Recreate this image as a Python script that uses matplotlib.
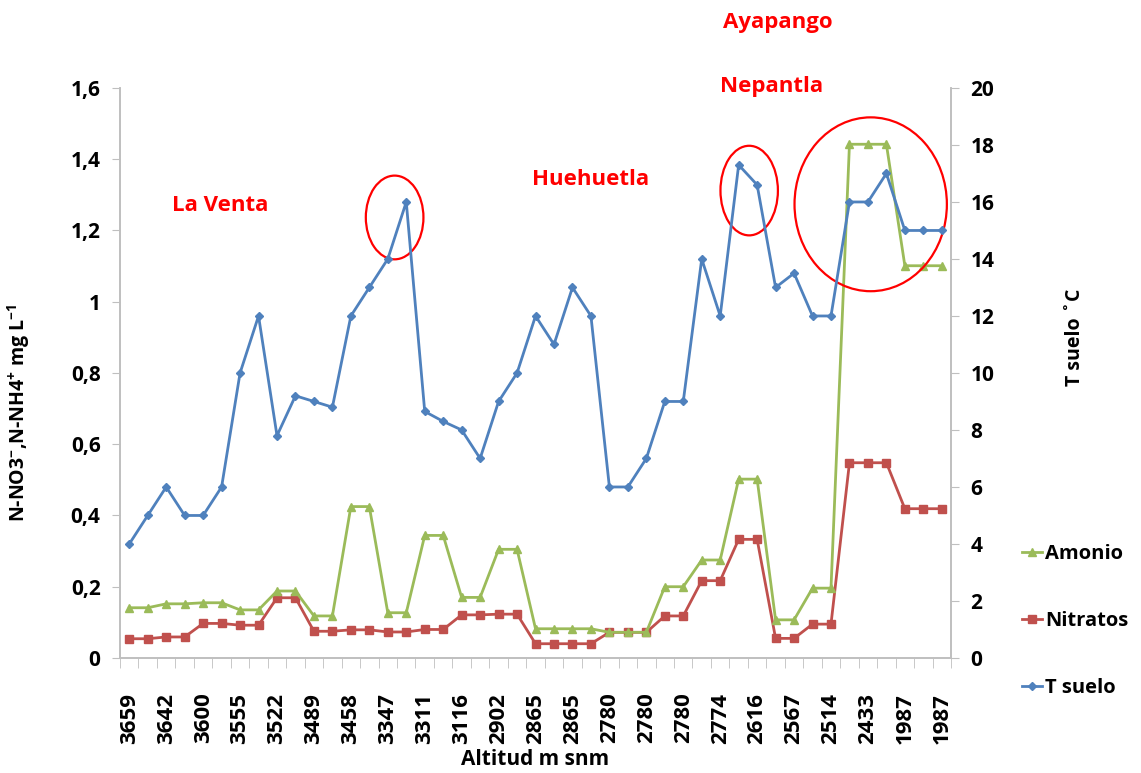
import numpy as np
import matplotlib
matplotlib.use('Agg')
from matplotlib import pyplot as plt
from matplotlib.patches import Ellipse
from matplotlib.lines import Line2D

plt.rcParams['font.family'] = ['Open Sans', 'DejaVu Sans']
plt.rcParams['font.weight'] = 'bold'
plt.rcParams['mathtext.fontset'] = 'custom'
plt.rcParams['mathtext.bf'] = 'Open Sans:bold'
plt.rcParams['mathtext.rm'] = 'Open Sans:bold'
plt.rcParams['mathtext.default'] = 'bf'

## Data ##
altitud = ['3659', '3642', '3600', '3555', '3522', '3489', '3458', '3347',
           '3311', '3116', '2902', '2865', '2865', '2780', '2780', '2780',
           '2774', '2616', '2567', '2514', '2433', '1987', '1987']

amonio = [0.141, 0.141, 0.152, 0.152, 0.155, 0.155, 0.135, 0.135, 0.188, 0.188,
          0.118, 0.118, 0.425, 0.425, 0.127, 0.127, 0.344, 0.344, 0.170, 0.170,
          0.305, 0.305, 0.082, 0.082, 0.082, 0.082, 0.072, 0.072, 0.072, 0.200,
          0.200, 0.275, 0.275, 0.502, 0.502, 0.107, 0.107, 0.196, 0.196, 1.442,
          1.442, 1.442, 1.101, 1.101, 1.101]

nitratos = [0.054, 0.054, 0.059, 0.059, 0.097, 0.097, 0.092, 0.092, 0.169, 0.169,
            0.075, 0.075, 0.079, 0.079, 0.073, 0.073, 0.080, 0.080, 0.121, 0.121,
            0.123, 0.123, 0.040, 0.040, 0.040, 0.040, 0.072, 0.072, 0.072, 0.118,
            0.118, 0.217, 0.217, 0.333, 0.333, 0.055, 0.055, 0.095, 0.095, 0.548,
            0.548, 0.548, 0.419, 0.419, 0.419]

t_suelo = [4, 5, 6, 5, 5, 6, 10, 12, 7.8, 9.2,
           9, 8.8, 12, 13, 14, 16, 8.65, 8.3, 8, 7,
           9, 10, 12, 11, 13, 12, 6, 6, 7, 9,
           9, 14, 12, 17.3, 16.6, 13, 13.5, 12, 12, 16,
           16, 17, 15, 15, 15]

sitios = ['La Venta', 'Huehuetla', 'Nepantla', 'Ayapango']

c_amonio = '#9BBB59'
c_nitratos = '#C0504D'
c_tsuelo = '#4F81BD'
gris = '#BFBFBF'

x = np.arange(len(t_suelo))

fig = plt.figure(figsize=(11.41, 7.73), dpi=100)
ax = fig.add_axes([0.1052, 0.1488, 0.7283, 0.7374])
ax2 = ax.twinx()

ax.plot(x, nitratos, color=c_nitratos, marker='s', ms=6, lw=2, label='Nitratos')
ax.plot(x, amonio, color=c_amonio, marker='^', ms=6, lw=2, label='Amonio')
ax2.plot(x, t_suelo, color=c_tsuelo, marker='D', ms=4.5, lw=2, label='T suelo')

ax.set_xlim(-0.5, len(x) - 0.5)
ax.set_ylim(0, 1.6)
ax2.set_ylim(0, 20)

ax.set_yticks(np.arange(0, 1.61, 0.2))
ax.set_yticklabels(['0', '0,2', '0,4', '0,6', '0,8', '1', '1,2', '1,4', '1,6'])
ax2.set_yticks(np.arange(0, 21, 2))

ax.set_xticks(x[::2])
ax.set_xticklabels(altitud, rotation=90)
ax.set_xticks(np.arange(-0.5, len(x), 1), minor=True)
ax.tick_params(axis='x', which='major', length=0, pad=25, labelsize=16)
ax.tick_params(axis='x', which='minor', length=7, color=gris, direction='out')
ax.tick_params(axis='y', length=6, color=gris, labelsize=15, pad=8)
ax2.tick_params(axis='y', length=6, color=gris, labelsize=15, pad=8)

for a in (ax, ax2):
    a.spines['top'].set_visible(False)
    for s in ('left', 'right', 'bottom'):
        a.spines[s].set_color(gris)
        a.spines[s].set_linewidth(1.2)

ax.set_xlabel('Altitud m snm', fontsize=15, fontweight='bold', labelpad=4)
ax.set_ylabel('N-NO3$^{-}$,N-NH4$^{+}$ mg L$^{-1}$', fontsize=14, fontweight='bold')
ax.yaxis.set_label_coords(-0.106, 0.43)
ax2.set_ylabel('T suelo ˚C', fontsize=14, fontweight='bold')
ax2.yaxis.set_label_coords(1.137, 0.563)

# site names
pos_sitios = [(4.93, 1.269), (24.96, 1.342), (34.8, 1.603), (35.1, 1.785)]
for nombre, (px, py) in zip(sitios, pos_sitios):
    ax.text(px, py, nombre, color='red', fontsize=16, fontweight='bold',
            ha='center', va='center', clip_on=False)

# circles
for cx, cy, w, h in [(14.37, 1.2365, 3.12, 0.235), (33.57, 1.312, 3.11, 0.2515),
                     (40.15, 1.2735, 8.25, 0.488)]:
    ax.add_patch(Ellipse((cx, cy), w, h, fill=False, edgecolor='red', lw=1.6,
                         clip_on=False, zorder=5))

handles = [Line2D([], [], color=c_amonio, marker='^', ms=6, lw=2),
           Line2D([], [], color=c_nitratos, marker='s', ms=6, lw=2),
           Line2D([], [], color=c_tsuelo, marker='D', ms=4.5, lw=2)]
fig.legend(handles, ['Amonio', 'Nitratos', 'T suelo'], loc='center left',
           bbox_to_anchor=(0.896, 0.1966), frameon=False, fontsize=14.5,
           handlelength=1.0, handletextpad=0.15, labelspacing=2.35,
           borderpad=0, borderaxespad=0)

fig.savefig('out.png', dpi=100)
